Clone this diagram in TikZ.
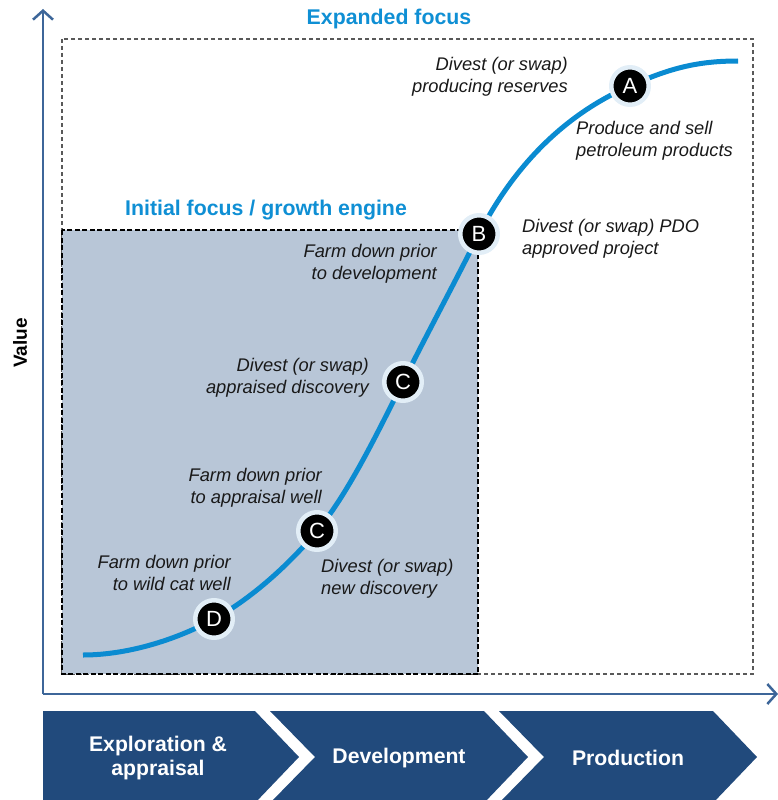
\documentclass[tikz,border=0pt]{standalone}
\usepackage{fontspec}
\setmainfont{Liberation Sans}
\usetikzlibrary{arrows.meta}

\definecolor{axisblue}{HTML}{3D6699}
\definecolor{curveblue}{HTML}{0A8BD1}
\definecolor{titleblue}{HTML}{0F8FD4}
\definecolor{phasenavy}{HTML}{214A7C}
\definecolor{boxgray}{HTML}{B8C6D7}
\definecolor{ringblue}{HTML}{E2EEF7}

\tikzset{
  note/.style={font=\fontsize{18.3}{22}\selectfont\itshape, inner sep=0pt, text=black!90},
  noteR/.style={note, align=right, anchor=east},
  noteL/.style={note, align=left, anchor=west},
  focustitle/.style={font=\fontsize{21.3}{24}\selectfont\bfseries, text=titleblue, inner sep=0pt},
  milestone/.style={circle, fill=black, draw=ringblue, line width=4.5pt,
    minimum size=37.5pt, inner sep=0pt, text=white,
    font=\fontsize{22}{22}\selectfont},
  phase/.style={fill=phasenavy},
  phaselabel/.style={font=\fontsize{21.2}{24}\selectfont\bfseries, text=white,
    align=center, inner sep=0pt},
  axis/.style={draw=axisblue, line width=2.5pt, -{Straight Barb[length=9pt,width=20pt,line width=2.5pt]}},
}

\begin{document}
\begin{tikzpicture}[x=1pt,y=-1pt]
\useasboundingbox (0,0) rectangle (778,800);

% focus areas
\draw[draw=black!65, line width=1.2pt, dash pattern=on 4pt off 3pt]
  (62,39) rectangle (753,674);
\fill[boxgray] (62,230) rectangle (478,674);
\draw[black, line width=1.6pt, dash pattern=on 5pt off 2.5pt]
  (62,230) rectangle (478,674);

% axes
\coordinate (origin) at (43,694);
\coordinate (ytip) at (43,9);
\coordinate (xtip) at (778,694);
\draw[axis] (origin) -- (ytip);
\draw[axis] (origin) -- (xtip);

\node[font=\fontsize{19}{19}\selectfont\bfseries, rotate=90, inner sep=0pt] (valuelbl) at (20,343) {Value};

% titles
\node[focustitle] (expanded) at (389,19) {Expanded focus};
\node[focustitle] (initial) at (266,210) {Initial focus / growth engine};

% value curve
\coordinate (pD) at (214,619);
\coordinate (pC1) at (317,531);
\coordinate (pC2) at (403,382);
\coordinate (pB) at (479,234);
\coordinate (pA) at (630,86);
\draw[curveblue, line width=5pt, line cap=butt]
  (83,655) .. controls (130,655) and (180,638) .. (pD)
  .. controls (249,600) and (287,567) .. (pC1)
  .. controls (347,495) and (375,438) .. (pC2)
  .. controls (428,332) and (454,284) .. (pB)
  .. controls (517,160) and (570,112) .. (pA)
  .. controls (670,68) and (698,61) .. (738,61);

% milestones
\node[milestone] (D) at (pD) {D};
\node[milestone] (C1) at (pC1) {C};
\node[milestone] (C2) at (pC2) {C};
\node[milestone] (B) at (pB) {B};
\node[milestone] (A) at (pA) {A};

% notes
\node[noteR] (nA1) at (568,77) {Divest (or swap)\\producing reserves};
\node[noteL] (nA2) at (576,141) {Produce and sell\\petroleum products};
\node[noteL] (nB1) at (522,239) {Divest (or swap) PDO\\approved project};
\node[noteR] (nB2) at (437,264) {Farm down prior\\to development};
\node[noteR] (nC2) at (369,378) {Divest (or swap)\\appraised discovery};
\node[noteR] (nC1a) at (322,488) {Farm down prior\\to appraisal well};
\node[noteL] (nC1b) at (321,579) {Divest (or swap)\\new discovery};
\node[noteR] (nD) at (231,573) {Farm down prior\\to wild cat well};

% phases
\fill[phase] (43,711) -- (255,711) -- (299,757) -- (255,803) -- (43,803) -- cycle;
\fill[phase] (270,711) -- (484,711) -- (528,757) -- (484,803) -- (270,803) -- (315,757) -- cycle;
\fill[phase] (499,711) -- (713,711) -- (757,757) -- (713,803) -- (499,803) -- (544,757) -- cycle;
\node[phaselabel] (explo) at (158,758) {Exploration \&\\appraisal};
\node[phaselabel] (devel) at (399,758) {Development};
\node[phaselabel] (prod) at (628,758) {Production};
\end{tikzpicture}
\end{document}
